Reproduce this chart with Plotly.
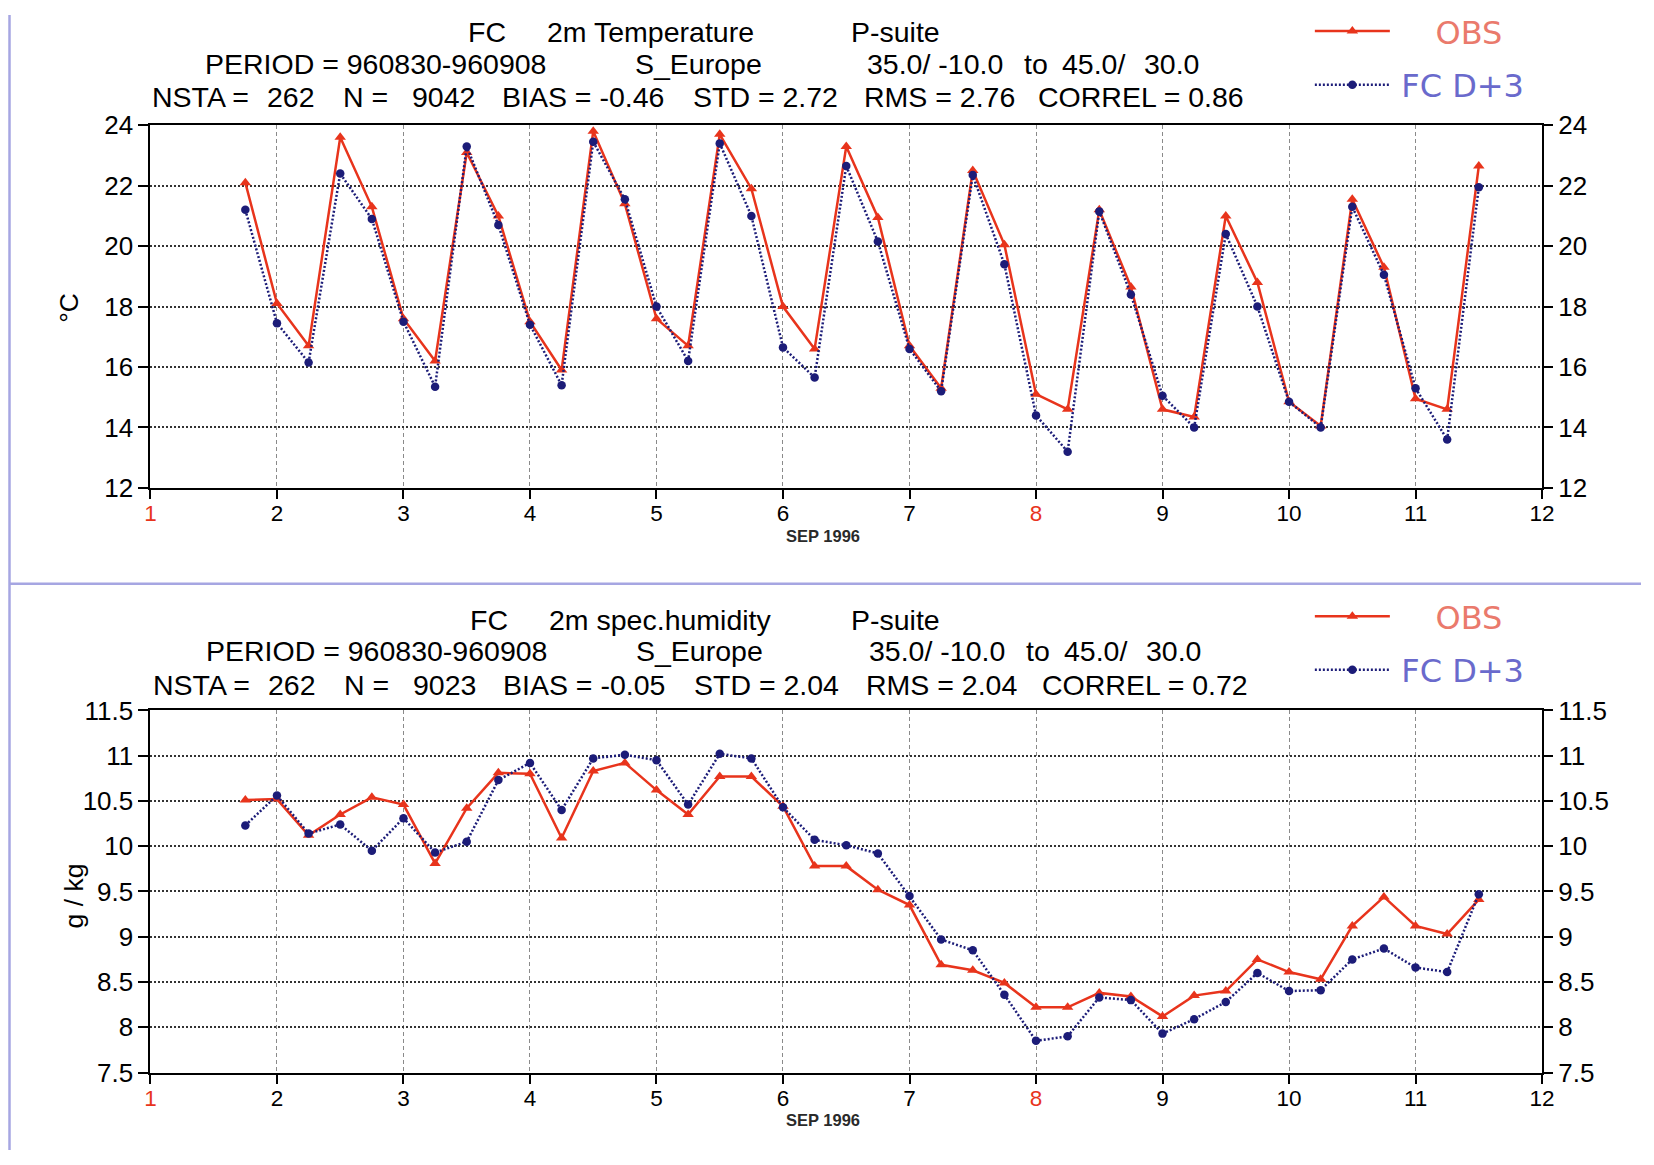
import plotly.graph_objects as go

W, H = 1654, 1165

# Forecast verification time axis: day of September 1996 (fractional = 6-hourly)
times = [1.75, 2.0, 2.25, 2.5, 2.75, 3.0, 3.25, 3.5, 3.75, 4.0,
         4.25, 4.5, 4.75, 5.0, 5.25, 5.5, 5.75, 6.0, 6.25, 6.5,
         6.75, 7.0, 7.25, 7.5, 7.75, 8.0, 8.25, 8.5, 8.75, 9.0,
         9.25, 9.5, 9.75, 10.0, 10.25, 10.5, 10.75, 11.0, 11.25, 11.5]

# 2m temperature (deg C)
temp_obs = [22.1, 18.1, 16.7, 23.6, 21.3, 17.6, 16.2, 23.1, 21.0, 17.5,
            15.9, 23.8, 21.4, 17.6, 16.7, 23.7, 21.9, 18.0, 16.6, 23.3,
            20.95, 16.7, 15.3, 22.5, 20.05, 15.1, 14.6, 21.2, 18.65, 14.6,
            14.35, 21.0, 18.8, 14.85, 14.05, 21.55, 19.3, 14.95, 14.6, 22.65]
temp_fc = [21.2, 17.45, 16.15, 22.4, 20.9, 17.5, 15.35, 23.3, 20.7, 17.4,
           15.4, 23.45, 21.55, 18.0, 16.2, 23.4, 21.0, 16.65, 15.65, 22.65,
           20.15, 16.6, 15.2, 22.35, 19.4, 14.4, 13.2, 21.15, 18.4, 15.05,
           14.0, 20.4, 18.0, 14.85, 14.0, 21.3, 19.05, 15.3, 13.6, 21.95]

# 2m specific humidity (g/kg)
hum_obs = [10.51, 10.52, 10.12, 10.35, 10.54, 10.46, 9.81, 10.42, 10.81, 10.80,
           10.09, 10.83, 10.92, 10.62, 10.35, 10.77, 10.77, 10.44, 9.78, 9.78,
           9.52, 9.35, 8.69, 8.63, 8.49, 8.22, 8.22, 8.38, 8.34, 8.12,
           8.35, 8.40, 8.75, 8.61, 8.53, 9.12, 9.44, 9.12, 9.03, 9.41]
hum_fc = [10.23, 10.56, 10.14, 10.24, 9.95, 10.31, 9.93, 10.05, 10.73, 10.92,
          10.40, 10.97, 11.01, 10.95, 10.46, 11.02, 10.97, 10.43, 10.07, 10.01,
          9.92, 9.45, 8.97, 8.85, 8.36, 7.85, 7.90, 8.33, 8.30, 7.93,
          8.09, 8.28, 8.60, 8.40, 8.41, 8.75, 8.87, 8.66, 8.61, 9.47]

day_ticks = list(range(1, 13))
sundays = [1, 8]
temp_ticks = [12, 14, 16, 18, 20, 22, 24]
hum_ticks = [7.5, 8, 8.5, 9, 9.5, 10, 10.5, 11, 11.5]
hum_ticktext = ["7.5", "8", "8.5", "9", "9.5", "10", "10.5", "11", "11.5"]

# Header lines: (text, left pixel) for each of the three rows
header_rows_temp = [
    [("FC", 466), ("2m Temperature", 545), ("P-suite", 849)],
    [("PERIOD = 960830-960908", 203), ("S_Europe", 633), ("35.0/ -10.0", 865),
     ("to", 1022), ("45.0/", 1060), ("30.0", 1142)],
    [("NSTA =", 150), ("262", 265), ("N =", 341), ("9042", 410), ("BIAS = -0.46", 500),
     ("STD = 2.72", 691), ("RMS = 2.76", 862), ("CORREL = 0.86", 1036)],
]
header_rows_hum = [
    [("FC", 468), ("2m spec.humidity", 547), ("P-suite", 849)],
    [("PERIOD = 960830-960908", 204), ("S_Europe", 634), ("35.0/ -10.0", 867),
     ("to", 1024), ("45.0/", 1062), ("30.0", 1144)],
    [("NSTA =", 151), ("262", 266), ("N =", 342), ("9023", 411), ("BIAS = -0.05", 501),
     ("STD = 2.04", 692), ("RMS = 2.04", 864), ("CORREL = 0.72", 1040)],
]

RED = "#e8341c"
NAVY = "#1c1c78"
OBS_TXT = "#ea7a6c"
FC_TXT = "#6a6acc"
FRAME = "#a6a6e2"
FONT = "Liberation Sans, Arial, sans-serif"

# Placement helpers: page pixel -> paper fraction, allowing for the page
# offset and scale of the displayed view.
OX, SX = 5.5, 0.9888
OY, SY = 13.0, 0.9765


def px_x(p):
    return ((p - OX) / SX) / W


def px_y(p):
    return 1 - ((p - OY) / SY) / H


fig = go.Figure()

panels = [
    dict(xa="x", ya="y", ya2="y2", obs=temp_obs, fc=temp_fc, legend="legend"),
    dict(xa="x2", ya="y3", ya2="y4", obs=hum_obs, fc=hum_fc, legend="legend2"),
]
for p in panels:
    fig.add_trace(go.Scatter(
        x=times, y=p["obs"], xaxis=p["xa"], yaxis=p["ya"],
        mode="lines+markers",
        name="<span style='color:%s'>\u00a0\u00a0\u00a0\u00a0OBS</span>" % OBS_TXT,
        line=dict(color=RED, width=2.5),
        marker=dict(symbol="triangle-up", size=10, color=RED),
        legend=p["legend"], legendgroup=p["legend"] + "obs",
    ))
    # forecast drawn against the right-hand axis (same range as the left one)
    fig.add_trace(go.Scatter(
        x=times, y=p["fc"], xaxis=p["xa"], yaxis=p["ya2"],
        mode="lines+markers", name="\u2009FC D+3",
        line=dict(color=NAVY, width=2.5, dash="2px,2px"),
        marker=dict(symbol="circle", size=8.5, color=NAVY),
        legend=p["legend"], legendgroup=p["legend"] + "fc",
    ))

ticktext_days = [
    f"<span style='color:#e8341c'>{d}</span>" if d in sundays else str(d)
    for d in day_ticks
]

xdom = [px_x(150), px_x(1542)]
top_dom = [px_y(487), px_y(123.5)]
bot_dom = [px_y(1073), px_y(710)]

xcommon = dict(
    range=[1, 12], domain=xdom, tickvals=day_ticks, ticktext=ticktext_days,
    showline=True, linecolor="black", linewidth=2, mirror=True,
    ticks="outside", ticklen=9, tickwidth=2, tickcolor="black",
    ticklabelstandoff=-5,
    showgrid=True, gridcolor="#8a8a8a", gridwidth=1, griddash="4px,3px",
    zeroline=False, tickfont=dict(family=FONT, size=22.5, color="black"),
)
ycommon = dict(
    showline=True, linecolor="black", linewidth=2, mirror=True,
    ticks="outside", ticklen=10, tickwidth=2, tickcolor="black",
    showgrid=True, gridcolor="#333333", gridwidth=1.7, griddash="2px,2px",
    zeroline=False, tickfont=dict(family=FONT, size=26, color="black"),
)
yright = dict(
    side="right", showline=False, showgrid=False, zeroline=False,
    ticks="outside", ticklen=10, tickwidth=2, tickcolor="black",
    tickfont=dict(family=FONT, size=26, color="black"),
)

legend_style = dict(
    xanchor="left", yanchor="top", bgcolor="rgba(0,0,0,0)",
    itemwidth=75, tracegroupgap=9, traceorder="grouped",
    font=dict(family="DejaVu Sans", size=32, color=FC_TXT),
)

fig.update_layout(
    width=W, height=H, autosize=False,
    margin=dict(l=0, r=0, t=0, b=0),
    paper_bgcolor="white", plot_bgcolor="white",
    xaxis=dict(xcommon, anchor="y"),
    yaxis=dict(ycommon, domain=top_dom, range=[12, 24], tickvals=temp_ticks, anchor="x"),
    yaxis2=dict(yright, domain=top_dom, range=[12, 24], tickvals=temp_ticks,
                overlaying="y", anchor="x"),
    xaxis2=dict(xcommon, anchor="y3"),
    yaxis3=dict(ycommon, domain=bot_dom, range=[7.5, 11.5], tickvals=hum_ticks,
                ticktext=hum_ticktext, anchor="x2"),
    yaxis4=dict(yright, domain=bot_dom, range=[7.5, 11.5], tickvals=hum_ticks,
                ticktext=hum_ticktext, overlaying="y3", anchor="x2"),
    legend=dict(legend_style, x=1319 / W, y=1 + 11.5 / H),
    legend2=dict(legend_style, x=1319 / W, y=1 - 589 / H),
    showlegend=True,
)

annotations = []
for rows, ys in ((header_rows_temp, (30, 62, 95)), (header_rows_hum, (619, 650, 685))):
    for row, yy in zip(rows, ys):
        for text, xl in row:
            annotations.append(dict(
                text=text, x=px_x(xl), y=px_y(yy), xref="paper", yref="paper",
                xanchor="left", yanchor="middle", showarrow=False,
                font=dict(family=FONT, size=28.5, color="black"),
            ))

# axis titles
for text, xc, yc in (("°C", 69, 306), ("g / kg", 73, 896)):
    annotations.append(dict(
        text=text, x=px_x(xc), y=px_y(yc), textangle=-90,
        xref="paper", yref="paper", xanchor="center", yanchor="middle",
        showarrow=False, font=dict(family=FONT, size=26.5, color="black"),
    ))
# date caption under each time axis
for yy in (535, 1121):
    annotations.append(dict(
        text="<b>SEP 1996</b>", x=px_x(823), y=px_y(yy), xref="paper", yref="paper",
        xanchor="center", yanchor="middle",
        showarrow=False, font=dict(family=FONT, size=16.5, color="#2a2a2a"),
    ))
fig.update_layout(annotations=annotations)

# page frame lines
fig.update_layout(shapes=[
    dict(type="line", xref="paper", yref="paper", x0=px_x(9), x1=px_x(9),
         y0=0, y1=1, line=dict(color=FRAME, width=2.5)),
    dict(type="line", xref="paper", yref="paper", x0=px_x(9), x1=1,
         y0=px_y(583), y1=px_y(583), line=dict(color=FRAME, width=2.5)),
])

fig.write_html("out.html")
